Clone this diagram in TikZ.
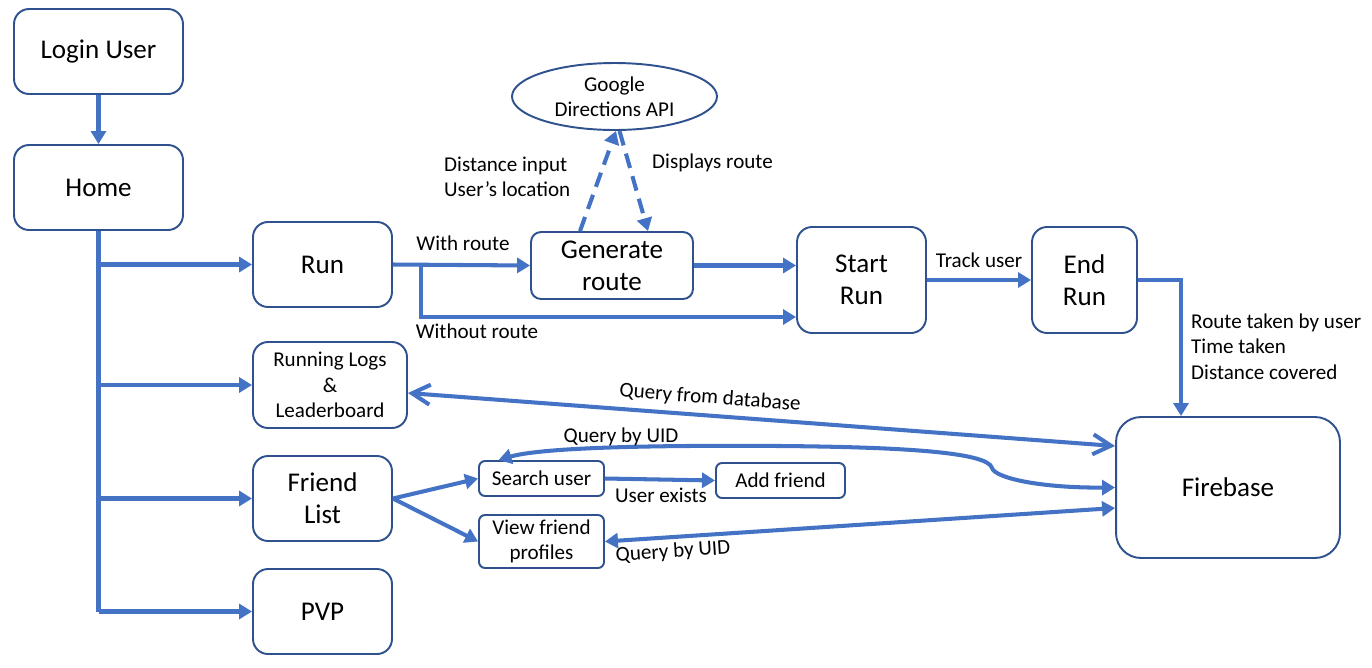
\documentclass[tikz,border=0pt]{standalone}
\usepackage{fontspec}
\setmainfont{Carlito}
\usetikzlibrary{arrows.meta,shapes.geometric}

\definecolor{lineblue}{HTML}{4472C4}
\definecolor{boxblue}{HTML}{2F528F}

\newcommand{\bigtxt}{\fontsize{15.4}{18.2}\selectfont}
\newcommand{\midtxt}{\fontsize{12}{14.4}\selectfont}

\tikzset{
  box/.style={draw=boxblue,line width=1.1pt,rounded corners=0.3cm,align=center,inner sep=0pt,fill=white},
  smallbox/.style={box,rounded corners=0.12cm,font=\midtxt},
  flow/.style={draw=lineblue,line width=2.3pt},
  arr/.style={flow,-{Triangle[length=0.26cm,width=0.3cm]}},
  twoarr/.style={flow,{Triangle[length=0.26cm,width=0.3cm]}-{Triangle[length=0.26cm,width=0.3cm]}},
  openarr/.style={flow,{Straight Barb[length=0.36cm,width=0.4cm]}-{Straight Barb[length=0.36cm,width=0.4cm]}},
  dasharr/.style={arr,dash pattern=on 0.3cm off 0.17cm},
}

\begin{document}
\begin{tikzpicture}[x=0.02cm,y=-0.02cm]
\useasboundingbox (0,0) rectangle (1372,667);

% left column
\node[box,minimum width=3.38cm,minimum height=1.70cm,font=\bigtxt] (login) at (98.5,51.5) {Login User};
\node[box,minimum width=3.38cm,minimum height=1.70cm,font=\bigtxt] (home) at (98.5,187.5) {Home};
\node[box,minimum width=2.78cm,minimum height=1.70cm,font=\bigtxt] (run) at (322.5,264.5) {Run};
\node[box,minimum width=3.08cm,minimum height=1.72cm,font=\midtxt] (logs) at (330,385) {Running Logs\\\&\\Leaderboard};
\node[box,minimum width=2.78cm,minimum height=1.70cm,font=\bigtxt] (friends) at (322.5,498.5) {Friend\\List};
\node[box,minimum width=2.78cm,minimum height=1.70cm,font=\bigtxt] (pvp) at (322.5,611.5) {PVP};

% run branch
\node[draw=boxblue,line width=1.1pt,ellipse,minimum width=4.10cm,minimum height=1.34cm,inner sep=0pt,align=center,font=\midtxt] (google) at (614.5,96.5) {Google\\Directions API};
\node[box,rounded corners=0.2cm,minimum width=3.24cm,minimum height=1.34cm,font=\bigtxt] (gen) at (612,265.5) {Generate\\route};
\node[box,minimum width=2.58cm,minimum height=2.12cm,font=\bigtxt] (start) at (861.5,280) {Start\\Run};
\node[box,minimum width=2.10cm,minimum height=2.12cm,font=\bigtxt] (endrun) at (1084.5,280) {End\\Run};
\node[box,rounded corners=0.5cm,minimum width=4.48cm,minimum height=2.82cm,font=\bigtxt] (firebase) at (1228,487.5) {Firebase};

% friend branch
\node[smallbox,minimum width=2.50cm,minimum height=0.70cm] (search) at (541.5,478.5) {Search user};
\node[smallbox,minimum width=2.58cm,minimum height=0.70cm] (addf) at (780.5,480.5) {Add friend};
\node[smallbox,minimum width=2.50cm,minimum height=1.06cm] (view) at (541.5,541.5) {View friend\\profiles};

% connectors
\draw[arr] (login) -- (home);
\draw[flow] (home.south) -- (home.south |- pvp);
\draw[arr] (home.south |- run) -- (run.west);
\draw[arr] (home.south |- logs) -- (logs.west);
\draw[arr] (home.south |- friends) -- (friends.west);
\draw[arr] (home.south |- pvp) -- (pvp.west);

\coordinate (split) at (421,264.5);
\draw[arr] (run.east) -- (gen.west);
\draw[arr] (split) |- ([yshift=-0.74cm]start.west);
\draw[arr] (gen.east) -- (gen.east -| start.west);
\draw[dasharr] ([xshift=-0.64cm]gen.north) -- ([xshift=0.03cm]google.south);
\draw[dasharr] ([xshift=0.1cm]google.south) -- ([xshift=0.72cm]gen.north);
\draw[arr] (start.east) -- (endrun.west);
\draw[arr] (endrun.east) -| ([xshift=-0.94cm]firebase.north);

\draw[openarr] ([yshift=-0.16cm]logs.east) -- ([yshift=0.83cm]firebase.west);
\draw[twoarr] (firebase.west) .. controls (1040,488) and (995,478) .. (992,468)
  .. controls (988,452) and (900,447) .. (780,446)
  .. controls (640,445) and (540,448) .. ([xshift=-0.86cm]search.north);
\draw[twoarr] (view.east) -- ([yshift=-0.41cm]firebase.west);
\draw[arr] (friends.east) -- (search.west);
\draw[arr] (friends.east) -- (view.west);
\draw[arr] (search.east) -- (addf.west);

% labels
\node[font=\midtxt] (lwith) at (463,243) {With route};
\node[font=\midtxt] (lwithout) at (477,331) {Without route};
\node[font=\midtxt,anchor=west,align=left] (linput) at (438,176.5) {Distance input\\User’s location};
\node[font=\midtxt,anchor=west] (ldisp) at (646,163) {Displays route};
\node[font=\midtxt] (ltrack) at (979,260) {Track user};
\node[font=\midtxt,anchor=west,align=left] (lresult) at (1185,346.5) {Route taken by user\\Time taken\\Distance covered};
\node[font=\midtxt,rotate=-4.3] (lquery) at (710,398) {Query from database};
\node[font=\midtxt] (luid) at (621,437) {Query by UID};
\node[font=\midtxt,rotate=3.7] (luidview) at (673,552) {Query by UID};
\node[font=\midtxt] (lexists) at (661,495) {User exists};
\end{tikzpicture}
\end{document}
